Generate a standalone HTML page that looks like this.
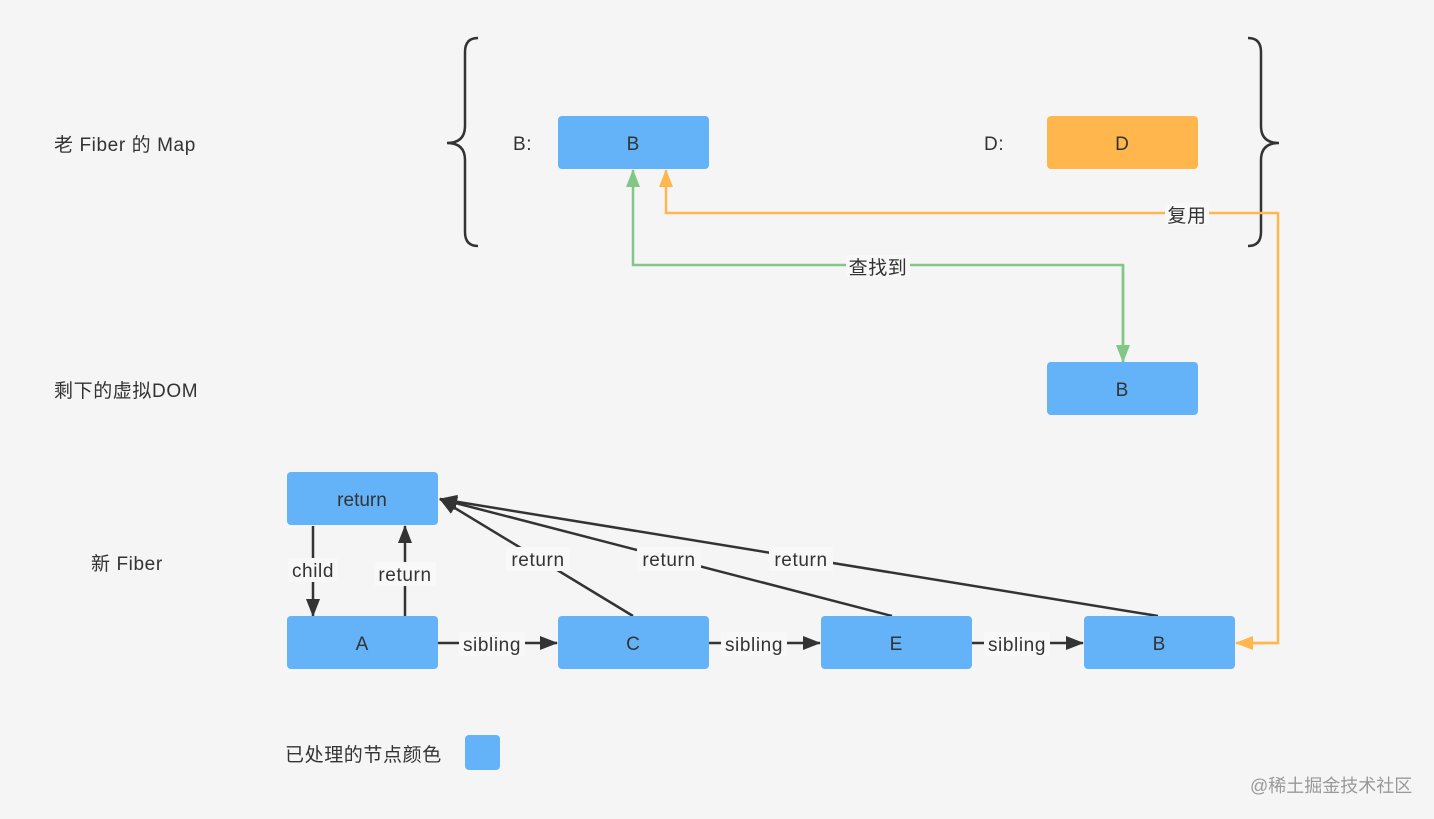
<!DOCTYPE html>
<html><head><meta charset="utf-8"><style>
html,body{margin:0;padding:0;background:#f5f5f5;}
svg{display:block;font-family:"Liberation Sans","Noto Sans CJK SC",sans-serif;}
</style></head><body>
<svg width="1434" height="819" viewBox="0 0 1434 819" xmlns="http://www.w3.org/2000/svg">
<defs>
<marker id="ab" markerWidth="18" markerHeight="14" refX="17" refY="7" orient="auto" markerUnits="userSpaceOnUse"><path d="M0,0 L18,7 L0,14 z" fill="#333"/></marker>
<marker id="ag" markerWidth="18" markerHeight="14" refX="17" refY="7" orient="auto" markerUnits="userSpaceOnUse"><path d="M0,0 L18,7 L0,14 z" fill="#82c785"/></marker>
<marker id="ao" markerWidth="18" markerHeight="14" refX="17" refY="7" orient="auto" markerUnits="userSpaceOnUse"><path d="M0,0 L18,7 L0,14 z" fill="#ffb74d"/></marker>
</defs>
<rect width="1434" height="819" fill="#f5f5f5"/>
<g font-size="19" fill="#333" letter-spacing="0.6">
<text x="54" y="151">老 Fiber 的 Map</text>
<text x="54" y="397">剩下的虚拟DOM</text>
<text x="91" y="570">新 Fiber</text>
<text x="285" y="761">已处理的节点颜色</text>
<text x="513" y="150">B:</text>
<text x="984" y="150">D:</text>
</g>
<text x="1250" y="792" font-size="18" fill="#999">@稀土掘金技术社区</text>
<path d="M478,38 Q465,38 465,52 L465,126 Q465,143 447,143 Q465,143 465,160 L465,232 Q465,246 478,246" fill="none" stroke="#333" stroke-width="2.5"/>
<path d="M1248,38 Q1261,38 1261,52 L1261,126 Q1261,143 1279,143 Q1261,143 1261,160 L1261,232 Q1261,246 1248,246" fill="none" stroke="#333" stroke-width="2.5"/>
<polyline points="1123,362 1123,265 633,265 633,170" fill="none" stroke="#82c785" stroke-width="2.5" marker-end="url(#ag)"/>
<polyline points="1123,265 1123,362" fill="none" stroke="#82c785" stroke-width="2.5" marker-end="url(#ag)"/>
<polyline points="1236,643 1278,643 1278,213 666,213 666,170" fill="none" stroke="#ffb74d" stroke-width="2.5" marker-end="url(#ao)"/>
<polyline points="1278,643 1236,643" fill="none" stroke="#ffb74d" stroke-width="2.5" marker-end="url(#ao)"/>
<g stroke="#333" stroke-width="2.5" fill="none">
<line x1="313" y1="526" x2="313" y2="616" marker-end="url(#ab)"/>
<line x1="405" y1="616" x2="405" y2="526" marker-end="url(#ab)"/>
<line x1="633" y1="616" x2="440" y2="499" marker-end="url(#ab)"/>
<line x1="892" y1="616" x2="440" y2="499" marker-end="url(#ab)"/>
<line x1="1158" y1="616" x2="440" y2="499" marker-end="url(#ab)"/>
<line x1="438" y1="643" x2="557" y2="643" marker-end="url(#ab)"/>
<line x1="709" y1="643" x2="820" y2="643" marker-end="url(#ab)"/>
<line x1="972" y1="643" x2="1083" y2="643" marker-end="url(#ab)"/>
</g>
<g font-size="19" fill="#333" text-anchor="middle" letter-spacing="0.6">
<rect x="846" y="255" width="64" height="22" fill="#f8f8f8"/><text x="878" y="274">查找到</text>
<rect x="1165" y="203" width="44" height="22" fill="#f8f8f8"/><text x="1187" y="222">复用</text>
<rect x="288" y="558" width="50" height="24" fill="#f8f8f8"/><text x="313" y="577">child</text>
<rect x="374" y="562" width="62" height="24" fill="#f8f8f8"/><text x="405" y="581">return</text>
<rect x="506" y="547" width="64" height="24" fill="#f8f8f8"/><text x="538" y="566">return</text>
<rect x="637" y="547" width="64" height="24" fill="#f8f8f8"/><text x="669" y="566">return</text>
<rect x="769" y="547" width="64" height="24" fill="#f8f8f8"/><text x="801" y="566">return</text>
<rect x="459" y="632" width="66" height="24" fill="#f8f8f8"/><text x="492" y="651">sibling</text>
<rect x="721" y="632" width="66" height="24" fill="#f8f8f8"/><text x="754" y="651">sibling</text>
<rect x="984" y="632" width="66" height="24" fill="#f8f8f8"/><text x="1017" y="651">sibling</text>
</g>
<g font-size="19" fill="#333" text-anchor="middle">
<rect x="558" y="116" width="151" height="53" rx="4" fill="#64b3f8"/><text x="633" y="150">B</text>
<rect x="1047" y="116" width="151" height="53" rx="4" fill="#ffb74d"/><text x="1122" y="150">D</text>
<rect x="1047" y="362" width="151" height="53" rx="4" fill="#64b3f8"/><text x="1122" y="396">B</text>
<rect x="287" y="472" width="151" height="53" rx="4" fill="#64b3f8"/><text x="362" y="506">return</text>
<rect x="287" y="616" width="151" height="53" rx="4" fill="#64b3f8"/><text x="362" y="650">A</text>
<rect x="558" y="616" width="151" height="53" rx="4" fill="#64b3f8"/><text x="633" y="650">C</text>
<rect x="821" y="616" width="151" height="53" rx="4" fill="#64b3f8"/><text x="896" y="650">E</text>
<rect x="1084" y="616" width="151" height="53" rx="4" fill="#64b3f8"/><text x="1159" y="650">B</text>
<rect x="465" y="735" width="35" height="35" rx="4" fill="#64b3f8"/>
</g>
</svg>
</body></html>
